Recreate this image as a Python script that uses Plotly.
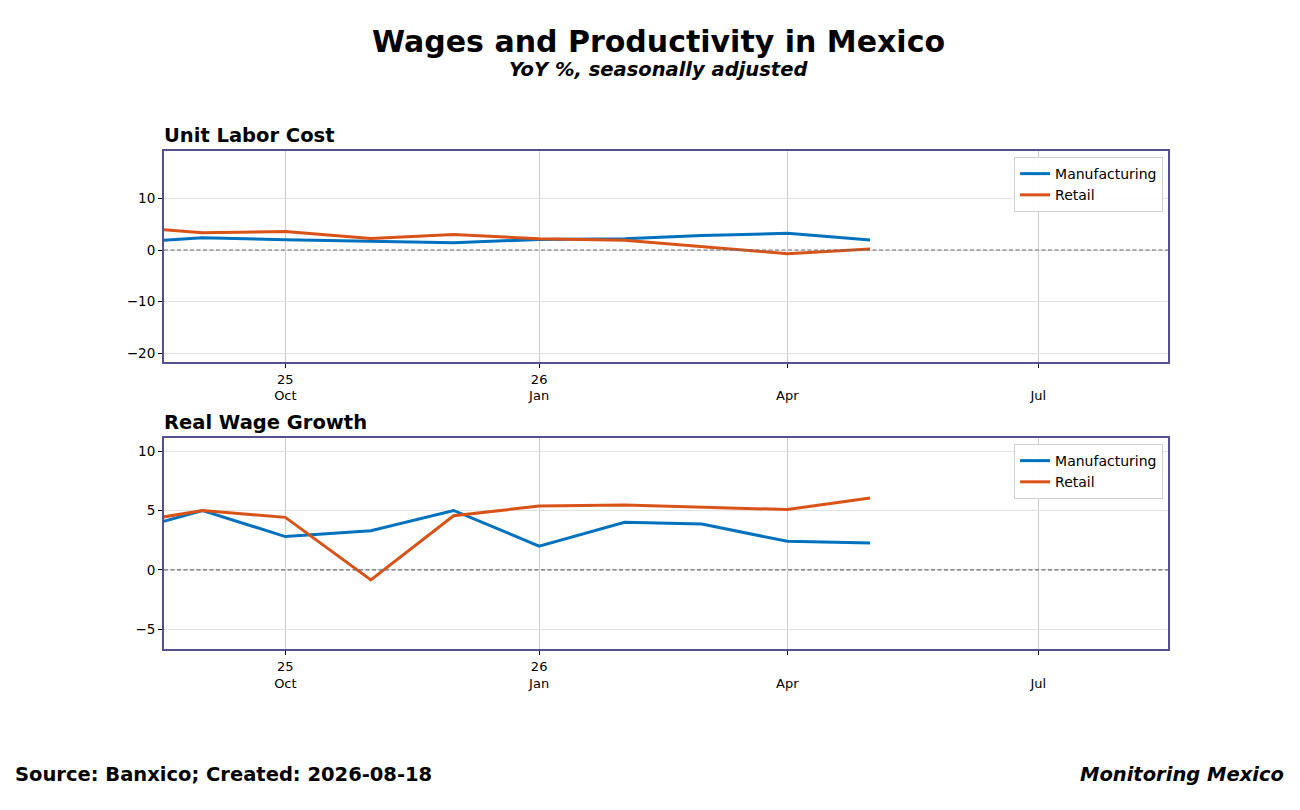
import plotly.graph_objects as go

# ---- data ----
months = ["2025-08-01", "2025-09-01", "2025-10-01", "2025-11-01", "2025-12-01",
          "2026-01-01", "2026-02-01", "2026-03-01", "2026-04-01", "2026-05-01"]
ulc_manufacturing = [1.3, 2.4, 2.0, 1.75, 1.4, 2.05, 2.2, 2.8, 3.25, 1.95]
ulc_retail = [4.6, 3.35, 3.6, 2.25, 3.0, 2.2, 1.9, 0.6, -0.7, 0.2]
rw_manufacturing = [3.0, 5.0, 2.8, 3.3, 5.0, 2.0, 4.0, 3.85, 2.4, 2.25]
rw_retail = [3.8, 5.0, 4.42, -0.85, 4.55, 5.37, 5.45, 5.27, 5.08, 6.05]

tick_vals = ["2025-10-01", "2026-01-01", "2026-04-01", "2026-07-01"]
tick_text = ["25<br>Oct", "26<br>Jan", "\u00a0<br>Apr", "\u00a0<br>Jul"]
x_range = ["2025-08-18", "2026-08-17"]

BLUE = "#0072BD"
ORANGE = "#D95319"
FRAME = "#55508f"
FONT = "DejaVu Sans"

fig = go.Figure()

fig.add_trace(go.Scatter(x=months, y=ulc_manufacturing, mode="lines", name="Manufacturing",
                         line=dict(color=BLUE, width=3), xaxis="x", yaxis="y", legend="legend"))
fig.add_trace(go.Scatter(x=months, y=ulc_retail, mode="lines", name="Retail",
                         line=dict(color=ORANGE, width=3), xaxis="x", yaxis="y", legend="legend"))
fig.add_trace(go.Scatter(x=months, y=rw_manufacturing, mode="lines", name="Manufacturing",
                         line=dict(color=BLUE, width=3), xaxis="x2", yaxis="y2", legend="legend2"))
fig.add_trace(go.Scatter(x=months, y=rw_retail, mode="lines", name="Retail",
                         line=dict(color=ORANGE, width=3), xaxis="x2", yaxis="y2", legend="legend2"))

xcommon = dict(type="date", range=x_range, tickvals=tick_vals, ticktext=tick_text,
               showgrid=True, gridcolor="#cccccc", gridwidth=1,
               showline=True, mirror=True, linecolor=FRAME, linewidth=2,
               ticks="outside", ticklen=4, tickcolor="#000", tickwidth=1,
               tickfont=dict(family=FONT, size=13, color="#000"), zeroline=False)
ycommon = dict(showgrid=True, gridcolor="#e2e2e2", gridwidth=1,
               showline=True, mirror=True, linecolor=FRAME, linewidth=2,
               ticks="outside", ticklen=4, tickcolor="#000", tickwidth=1,
               tickfont=dict(family=FONT, size=13.5, color="#000"), zeroline=False)

legcommon = dict(xanchor="right", yanchor="top", bgcolor="rgba(255,255,255,0.9)",
                 bordercolor="#d0d0d0", borderwidth=1,
                 font=dict(family=FONT, size=14, color="#000"), tracegroupgap=0)

fig.update_layout(
    width=1300, height=810,
    margin=dict(l=0, r=0, t=0, b=0),
    paper_bgcolor="white", plot_bgcolor="white",
    font=dict(family=FONT, color="#000"),
    xaxis=dict(domain=[0.12, 0.8923], anchor="y", **xcommon),
    yaxis=dict(domain=[0.5630, 0.8235], anchor="x", range=[-21.7, 19.2],
               tickvals=[-20, -10, 0, 10], ticktext=["\u221220", "\u221210", "0", "10"], **ycommon),
    xaxis2=dict(domain=[0.12, 0.8923], anchor="y2", **xcommon),
    yaxis2=dict(domain=[0.2086, 0.4691], anchor="x2", range=[-6.67, 11.1],
                tickvals=[-5, 0, 5, 10], ticktext=["\u22125", "0", "5", "10"], **ycommon),
    legend=dict(x=0.8885, y=0.8160, **legcommon),
    legend2=dict(x=0.8885, y=0.4617, **legcommon),
    showlegend=True,
)

for yref in ["y", "y2"]:
    xref = "x domain" if yref == "y" else "x2 domain"
    fig.add_shape(type="line", xref=xref, yref=yref, x0=0, x1=1, y0=0, y1=0,
                  line=dict(color="#6a6a6a", width=1.2, dash="4px,2.5px"), layer="above")

ann = [
    dict(text="<b>Wages and Productivity in Mexico</b>", x=0.5, y=0.9585, xanchor="center",
         yanchor="middle", font=dict(size=30, family=FONT)),
    dict(text="<b><i>YoY %, seasonally adjusted</i></b>", x=0.5, y=0.9235, xanchor="center",
         yanchor="middle", font=dict(size=19.5, family=FONT)),
    dict(text="<b>Unit Labor Cost</b>", x=0.1185, y=0.8420, xanchor="left", yanchor="middle",
         font=dict(size=19.5, family=FONT)),
    dict(text="<b>Real Wage Growth</b>", x=0.1185, y=0.4877, xanchor="left", yanchor="middle",
         font=dict(size=19.5, family=FONT)),
    dict(text="<b>Source: Banxico; Created: 2026-08-18</b>", x=0.0038, y=0.0531, xanchor="left",
         yanchor="middle", font=dict(size=19.5, family=FONT)),
    dict(text="<b><i>Monitoring Mexico</i></b>", x=0.9831, y=0.0531, xanchor="right",
         yanchor="middle", font=dict(size=19.5, family=FONT)),
]
for a in ann:
    fig.add_annotation(xref="paper", yref="paper", showarrow=False, **a)

fig.write_html("out.html")
